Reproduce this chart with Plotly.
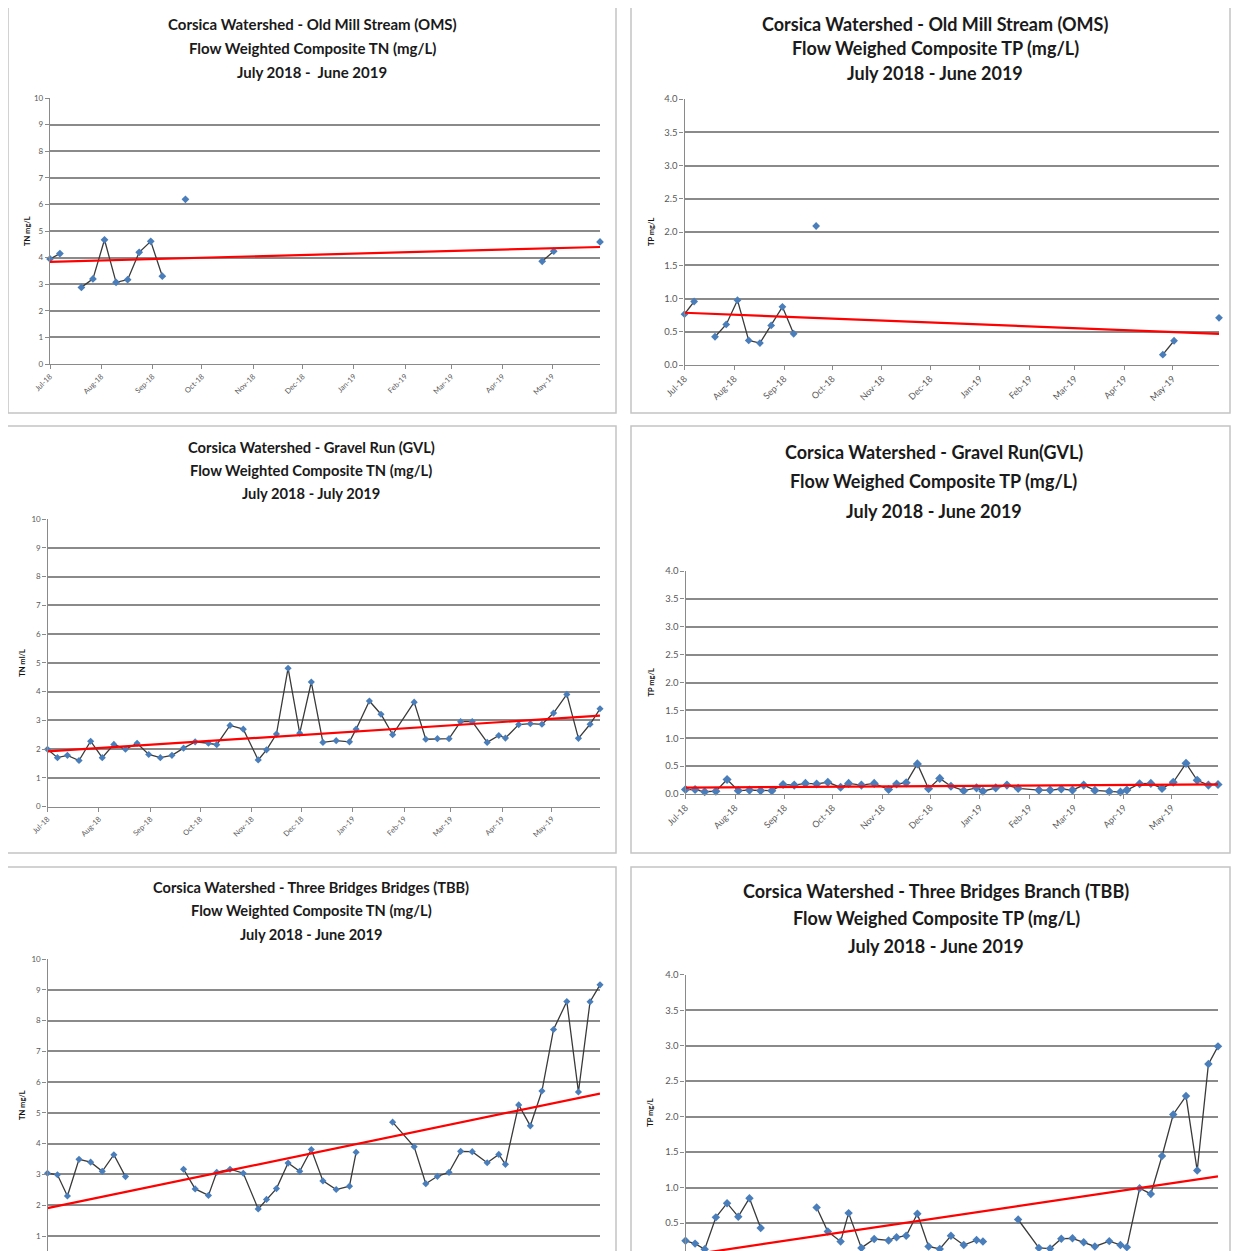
import numpy as np
import pandas as pd
import plotly.graph_objects as go

# ---- data ----
# Old Mill Stream (OMS) sampling dates; None values mark missing samples (line breaks)
oms_dates = ["2018-07-01", "2018-07-07", "2018-07-13", "2018-07-20", "2018-07-27",
             "2018-08-03", "2018-08-10", "2018-08-17", "2018-08-24", "2018-08-31",
             "2018-09-07", "2018-09-14", "2018-09-21", "2018-09-28", "2019-04-25",
             "2019-05-02", "2019-05-09", "2019-05-30"]
oms_tn = [3.95, 4.15, None, 2.88, 3.20, 4.67, 3.07, 3.17, 4.20, 4.61,
          3.30, None, 6.19, None, 3.86, 4.24, None, 4.59]
oms_tp = [0.765, 0.955, None, 0.425, 0.61, 0.975, 0.37, 0.33, 0.595, 0.875,
          0.47, None, 2.09, None, 0.155, 0.365, None, 0.71]

# Gravel Run (GVL) and Three Bridges Branch (TBB) share the same sampling dates
gvl_dates = ["2018-07-01", "2018-07-07", "2018-07-13", "2018-07-20", "2018-07-27",
             "2018-08-03", "2018-08-10", "2018-08-17", "2018-08-24", "2018-08-31",
             "2018-09-07", "2018-09-14", "2018-09-21", "2018-09-28",
             "2018-10-06", "2018-10-11", "2018-10-19", "2018-10-27",
             "2018-11-05", "2018-11-10", "2018-11-16", "2018-11-23", "2018-11-30",
             "2018-12-07", "2018-12-14", "2018-12-22", "2018-12-30",
             "2019-01-03", "2019-01-11", "2019-01-18", "2019-01-25",
             "2019-02-07", "2019-02-14", "2019-02-21", "2019-02-28",
             "2019-03-07", "2019-03-14", "2019-03-23", "2019-03-30",
             "2019-04-03", "2019-04-11", "2019-04-18", "2019-04-25",
             "2019-05-02", "2019-05-10", "2019-05-17", "2019-05-24", "2019-05-30"]
gvl_tn = [1.99, 1.70, 1.78, 1.60, 2.27, 1.70, 2.16, 1.99, 2.20, 1.81,
          1.70, 1.78, 2.03, 2.25, 2.20, 2.15, 2.82, 2.69, 1.62, 1.97,
          2.52, 4.81, 2.55, 4.33, 2.23, 2.29, 2.25, 2.69, 3.67, 3.21,
          2.50, 3.63, 2.34, 2.36, 2.36, 2.95, 2.95, 2.23, 2.47, 2.38,
          2.85, 2.88, 2.86, 3.25, 3.90, 2.37, 2.86, 3.40]
gvl_tp = [0.08, 0.08, 0.04, 0.05, 0.26, 0.06, 0.07, 0.06, 0.06, 0.17,
          0.16, 0.19, 0.18, 0.21, 0.12, 0.19, 0.16, 0.19, 0.08, 0.18,
          0.20, 0.54, 0.095, 0.28, 0.14, 0.06, 0.11, 0.05, 0.11, 0.16,
          0.10, 0.07, 0.07, 0.09, 0.07, 0.16, 0.065, 0.045, 0.035, 0.07,
          0.185, 0.19, 0.10, 0.21, 0.55, 0.245, 0.16, 0.17]

tbb_dates = gvl_dates
tbb_tn = [3.04, 2.99, 2.30, 3.49, 3.40, 3.10, 3.64, 2.93, None, None,
          None, None, 3.17, 2.53, 2.32, 3.07, 3.17, 3.04, 1.88, 2.19,
          2.54, 3.37, 3.10, 3.81, 2.79, 2.51, 2.62, 3.72, None, None,
          4.70, 3.90, 2.70, 2.94, 3.07, 3.75, 3.74, 3.38, 3.65, 3.33,
          5.26, 4.58, 5.71, 7.71, 8.62, 5.68, 8.61, 9.16]
tbb_tp = [0.25, 0.21, 0.13, 0.58, 0.78, 0.59, 0.85, 0.43, None, None,
          None, None, 0.72, 0.38, 0.24, 0.64, 0.15, 0.275, 0.255, 0.30,
          0.32, 0.63, 0.17, 0.135, 0.32, 0.19, 0.26, 0.24, None, None,
          0.55, 0.15, 0.14, 0.28, 0.285, 0.23, 0.17, 0.245, 0.19, 0.16,
          0.99, 0.91, 1.445, 2.03, 2.29, 1.24, 2.74, 2.99]

# page body has an 8px margin, so the figure itself is 8px smaller each way
OFF = 8
W, H = 1239 - OFF, 1251 - OFF
FONT = "Lato, Liberation Sans, sans-serif"


def fx(p):
    return (p - OFF) / W


def fy(p):
    return 1 - (p - OFF) / H


def trend(dates, vals):
    d = pd.to_datetime(pd.Series(dates))
    v = pd.Series(vals, dtype=float)
    ok = v.notna()
    days = (d - d.iloc[0]).dt.days
    k, b = np.polyfit(days[ok], v[ok], 1)
    ends = [d[ok].iloc[0], d[ok].iloc[-1]]
    return ends, [k * (e - d.iloc[0]).days + b for e in ends]


panels = [
    dict(dates=oms_dates, vals=oms_tn, yr=[0, 10], dt=1, fmt="d", ytitle="TN mg/L",
         box=(50, 600, 98, 364), frame=(8, 616, 3, 413), tfs=8, ms=6,
         title=["Corsica Watershed - Old Mill Stream (OMS)",
                "Flow Weighted Composite TN (mg/L)", "July 2018 -  June 2019"],
         tx=312, ty=[24, 48, 72], tsize=15, ylab_x=27),
    dict(dates=oms_dates, vals=oms_tp, yr=[0, 4], dt=0.5, fmt=".1f", ytitle="TP mg/L",
         box=(684.5, 1219, 99, 365), frame=(631, 1230, 3, 413), tfs=9.5, ms=6,
         title=["Corsica Watershed - Old Mill Stream (OMS)",
                "Flow Weighed Composite TP (mg/L)", "July 2018 - June 2019"],
         tx=935, ty=[24, 48, 73], tsize=18, ylab_x=651),
    dict(dates=gvl_dates, vals=gvl_tn, yr=[0, 10], dt=1, fmt="d", ytitle="TN ml/L",
         box=(47.5, 600, 519, 806.5), frame=(7, 616, 426, 853), tfs=8, ms=5.5,
         title=["Corsica Watershed - Gravel Run (GVL)",
                "Flow Weighted Composite TN (mg/L)", "July 2018 - July 2019"],
         tx=311, ty=[447, 470, 493], tsize=14.7, ylab_x=23),
    dict(dates=gvl_dates, vals=gvl_tp, yr=[0, 4], dt=0.5, fmt=".1f", ytitle="TP mg/L",
         box=(685.5, 1218, 571, 794), frame=(631, 1230, 426, 853), tfs=9.5, ms=7,
         title=["Corsica Watershed - Gravel Run(GVL)",
                "Flow Weighed Composite TP (mg/L)", "July 2018 - June 2019"],
         tx=934, ty=[452, 481, 511], tsize=18, ylab_x=651),
    dict(dates=tbb_dates, vals=tbb_tn, yr=[0.513, 10], dt=1, fmt="d", ytitle="TN mg/L",
         box=(47.5, 600, 959, 1251), frame=(6, 616, 867, 1265), tfs=8, ms=5.5,
         title=["Corsica Watershed - Three Bridges Bridges (TBB)",
                "Flow Weighted Composite TN (mg/L)", "July 2018 - June 2019"],
         tx=311, ty=[887, 910, 934], tsize=14.6, ylab_x=22),
    dict(dates=tbb_dates, vals=tbb_tp, yr=[0.106, 4], dt=0.5, fmt=".1f", ytitle="TP mg/L",
         box=(685.5, 1218, 974.7, 1251), frame=(631, 1230, 867, 1265), tfs=9.5, ms=6.5,
         title=["Corsica Watershed - Three Bridges Branch (TBB)",
                "Flow Weighed Composite TP (mg/L)", "July 2018 - June 2019"],
         tx=936, ty=[891, 918, 946], tsize=18, ylab_x=651),
]

fig = go.Figure()
layout = dict(width=W, height=H,
              margin=dict(l=0, r=0, t=0, b=0, pad=0, autoexpand=False),
              paper_bgcolor="white", plot_bgcolor="white", showlegend=False,
              annotations=[], shapes=[])

GRID = "#8a8a8a"
AX = "#8a8a8a"

for i, p in enumerate(panels, start=1):
    xa = "x" if i == 1 else f"x{i}"
    ya = "y" if i == 1 else f"y{i}"
    x0, x1, yt, yb = p["box"]
    cut = yb >= 1251
    layout["xaxis" if i == 1 else f"xaxis{i}"] = dict(
        domain=[fx(x0), fx(x1)], anchor=ya, type="date", automargin=False,
        range=["2018-07-01", "2019-05-30"],
        tick0="2018-07-01", dtick="M1", tickformat="%b-%y", tickangle=-45,
        ticks="outside", ticklen=4, tickcolor=AX, showline=not cut, linecolor=AX,
        linewidth=1.3, showticklabels=not cut, showgrid=False, zeroline=False,
        tickfont=dict(family=FONT, size=p["tfs"] - 0.5, color="#595959"))
    layout["yaxis" if i == 1 else f"yaxis{i}"] = dict(
        domain=[max(fy(yb), 0), fy(yt)], anchor=xa, range=p["yr"], automargin=False,
        tick0=0, dtick=p["dt"], tickformat=p["fmt"],
        ticks="outside", ticklen=4, tickcolor=AX, showline=True, linecolor=AX,
        linewidth=1.3, showgrid=True, gridcolor=GRID, gridwidth=1.5, zeroline=False,
        tickfont=dict(family=FONT, size=p["tfs"], color="#595959"))

    fig.add_trace(go.Scatter(
        x=p["dates"], y=p["vals"], xaxis=xa, yaxis=ya, mode="lines+markers",
        connectgaps=False, cliponaxis=False,
        line=dict(color="#3a3a3a", width=1.3),
        marker=dict(symbol="diamond", size=p["ms"], color="#4a7ebb")))

    tx_, ty_ = trend(p["dates"], p["vals"])
    fig.add_trace(go.Scatter(
        x=tx_, y=ty_, xaxis=xa, yaxis=ya, mode="lines",
        line=dict(color="#ff0000", width=2.2)))

    fx0, fx1, fy0, fy1 = p["frame"]
    layout["shapes"].append(dict(type="rect", xref="paper", yref="paper",
                                 x0=fx(fx0), x1=fx(fx1), y0=fy(fy1), y1=fy(fy0),
                                 line=dict(color="#c4c4c4", width=1.5), layer="below"))

    for line_text, ly in zip(p["title"], p["ty"]):
        layout["annotations"].append(dict(
            text=f"<b>{line_text}</b>", xref="paper", yref="paper",
            x=fx(p["tx"]), y=fy(ly), xanchor="center", yanchor="middle",
            showarrow=False, font=dict(family=FONT, size=p["tsize"], color="#1a1a1a")))

    layout["annotations"].append(dict(
        text=f"<b>{p['ytitle']}</b>", xref="paper", yref="paper",
        x=fx(p["ylab_x"]), y=fy((yt + min(yb, 1258)) / 2), textangle=-90,
        xanchor="center", yanchor="middle", showarrow=False,
        font=dict(family=FONT, size=7.5, color="#111111")))

fig.update_layout(**layout)
fig.write_html("out.html")
